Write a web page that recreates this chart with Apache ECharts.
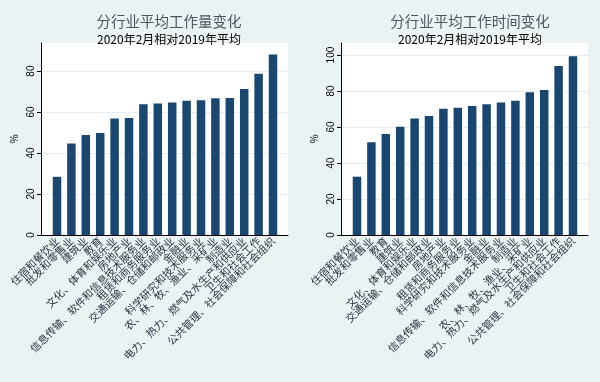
<!DOCTYPE html>
<html>
<head>
<meta charset="utf-8">
<script src="https://cdn.jsdelivr.net/npm/echarts@6/dist/echarts.min.js"></script>
<style>
html,body{margin:0;padding:0;background:#eaf2f3;}
#c{width:600px;height:382px;}
</style>
</head>
<body>
<div id="c"></div>
<script>
// ---- data ----
var titleLeft = '分行业平均工作量变化';
var titleRight = '分行业平均工作时间变化';
var subTitle = '2020年2月相对2019年平均';
var yName = '%';

var catsLeft = ['住宿和餐饮业','批发和零售业','建筑业','教育','文化、体育和娱乐业','房地产业','信息传输、软件和信息技术服务业','租赁和商务服务业','交通运输、仓储和邮政业','金融业','科学研究和技术服务业','农、林、牧、渔业、采矿业','制造业','电力、热力、燃气及水生产和供应业','卫生和社会工作','公共管理、社会保障和社会组织'];
var valsLeft = [28.4, 44.7, 48.8, 49.8, 56.9, 57.1, 63.8, 64.2, 64.7, 65.5, 65.7, 66.7, 66.8, 71.2, 78.7, 88.1];

var catsRight = ['住宿和餐饮业','批发和零售业','教育','建筑业','文化、体育和娱乐业','交通运输、仓储和邮政业','房地产业','租赁和商务服务业','科学研究和技术服务业','金融业','信息传输、软件和信息技术服务业','制造业','农、林、牧、渔业、采矿业','电力、热力、燃气及水生产和供应业','卫生和社会工作','公共管理、社会保障和社会组织'];
var valsRight = [32.4, 51.5, 56.1, 60.2, 64.8, 66.1, 70.2, 70.7, 71.7, 72.6, 73.7, 74.6, 79.3, 80.6, 93.9, 99.4];

var ticksLeft = [0, 20, 40, 60, 80];
var ticksRight = [0, 20, 40, 60, 80, 100];

// ---- chart ----
var BAR = '#1a476f';
var FONT = '"Noto Sans CJK SC", "DejaVu Sans", sans-serif';
var chart = echarts.init(document.getElementById('c'), null, {renderer: 'canvas'});

function bgY(gi, max, ticks) {
  return {
    type: 'value', gridIndex: gi, min: 0, max: max,
    interval: 20,
    name: yName, nameLocation: 'middle', nameGap: 22, nameRotate: 90,
    nameTextStyle: {fontSize: 10, color: '#000', fontFamily: FONT},
    axisLine: {show: true, lineStyle: {color: '#000', width: 1}},
    axisTick: {show: true, length: 4, customValues: ticks, lineStyle: {color: '#000'}},
    axisLabel: {rotate: 90, fontSize: 10, color: '#000', margin: 5, fontFamily: '"Liberation Sans", Arial, sans-serif', customValues: ticks},
    splitLine: {show: true, lineStyle: {color: '#e6eef0', width: 1}}
  };
}
function barY(gi, max) {
  return {type: 'value', gridIndex: gi, min: 0, max: max, show: false, splitLine: {show: false}};
}
function bgX(gi) {
  return {type: 'value', gridIndex: gi, min: 0, max: 1,
    axisLine: {show: true, onZero: false, lineStyle: {color: '#000', width: 1}},
    axisTick: {show: false}, axisLabel: {show: false}, splitLine: {show: false}};
}
function barX(gi, cats) {
  return {type: 'category', gridIndex: gi, data: cats,
    axisLine: {show: false}, axisTick: {show: false},
    axisLabel: {interval: 0, rotate: 45, fontSize: 10.5, color: '#2a3440', margin: 4, fontFamily: FONT}};
}

var maxL = 93.7, maxR = 106.7;

chart.setOption({
  backgroundColor: '#eaf2f3',
  animation: false,
  title: [
    {text: titleLeft, left: 164, top: 9, textAlign: 'center',
     textStyle: {fontSize: 14.5, fontWeight: 'normal', color: '#4a5560', fontFamily: FONT}},
    {text: subTitle, left: 164, top: 28, textAlign: 'center',
     textStyle: {fontSize: 12, fontWeight: 'normal', color: '#000', fontFamily: FONT}},
    {text: titleRight, left: 465, top: 9, textAlign: 'center',
     textStyle: {fontSize: 14.5, fontWeight: 'normal', color: '#4a5560', fontFamily: FONT}},
    {text: subTitle, left: 465, top: 28, textAlign: 'center',
     textStyle: {fontSize: 12, fontWeight: 'normal', color: '#000', fontFamily: FONT}}
  ],
  grid: [
    {left: 41, top: 43, width: 247, height: 192, show: true, backgroundColor: '#fff', borderWidth: 0},
    {left: 49.8, top: 43, width: 230.4, height: 192},
    {left: 341, top: 43, width: 247, height: 192, show: true, backgroundColor: '#fff', borderWidth: 0},
    {left: 349.8, top: 43, width: 230.4, height: 192}
  ],
  xAxis: [bgX(0), barX(1, catsLeft), bgX(2), barX(3, catsRight)],
  yAxis: [bgY(0, maxL, ticksLeft), barY(1, maxL), bgY(2, maxR, ticksRight), barY(3, maxR)],
  series: [
    {type: 'bar', xAxisIndex: 1, yAxisIndex: 1, data: valsLeft, barWidth: '59%',
     itemStyle: {color: BAR}},
    {type: 'bar', xAxisIndex: 3, yAxisIndex: 3, data: valsRight, barWidth: '59%',
     itemStyle: {color: BAR}}
  ]
});
</script>
</body>
</html>
